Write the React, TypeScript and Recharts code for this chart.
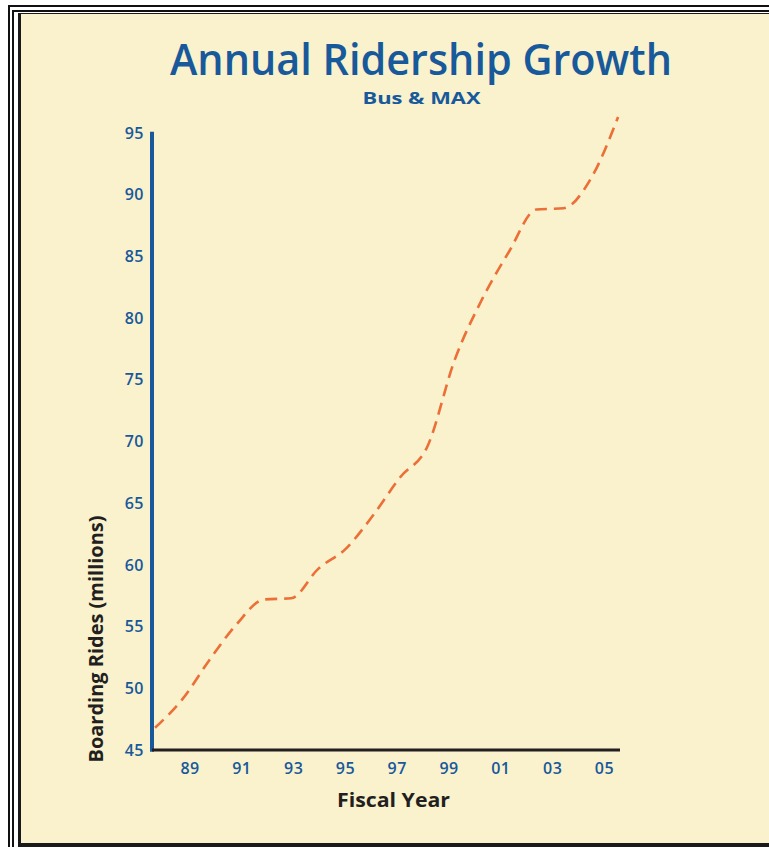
import { LineChart, Line, XAxis, YAxis, ReferenceLine } from "recharts";

// fiscal years 1988..2005 (stored as 88..105 so the numeric axis stays in order)
const years = [88, 89, 90, 91, 92, 93, 94, 95, 96, 97, 98, 99, 100, 101, 102, 103, 104, 105];
// boarding rides, millions
const rides = [46.8, 49.1, 52.3, 55.2, 57.2, 57.3, 59.7, 61.3, 64.0, 67.1, 69.6, 76.6, 81.5, 85.4, 88.8, 88.9, 91.3, 96.3];
const yTicks = [45, 50, 55, 60, 65, 70, 75, 80, 85, 90, 95];
const xTicks = [89, 91, 93, 95, 97, 99, 101, 103, 105];

const data = years.map((year, i) => ({ year, rides: rides[i] }));

const CREAM = "#FAF1CD";
const BLUE = "#17599A";
const INK = "#231F20";
const ORANGE = "#EB6F36";
const FONT = "'Open Sans', 'DejaVu Sans', sans-serif";

const fmtYear = (v: number) => String(v % 100).padStart(2, "0");

export default function App() {
  return (
    <div style={{ position: "absolute", left: 0, top: 0, width: 769, height: 847, background: "#fff", overflow: "hidden" }}>
      {/* triple frame */}
      <div style={{ position: "absolute", left: 8, top: 5, right: 0, bottom: 0, borderLeft: "2px solid #111", borderTop: "2px solid #111" }} />
      <div style={{ position: "absolute", left: 12, top: 10, right: 0, bottom: 0, borderLeft: "2px solid #111", borderTop: "2px solid #111" }} />
      <div
        style={{
          position: "absolute", left: 18, top: 13, right: 0, bottom: 0,
          borderLeft: "3px solid #1a1a1a", borderTop: "1px solid #1a1a1a", borderBottom: "4px solid #1a1a1a",
          background: CREAM,
        }}
      />

      <div style={{ position: "absolute", left: 0, top: 0 }}>
        <LineChart width={769} height={847} data={data} margin={{ top: 114.5, right: 149, bottom: 67, left: 92 }}>
          <XAxis
            xAxisId="yr"
            type="number"
            dataKey="year"
            domain={[87.89, 105.07]}
            allowDataOverflow
            hide
          />
          <XAxis
            xAxisId="lbl"
            type="number"
            dataKey="year"
            domain={[87.53, 105.6]}
            allowDataOverflow
            ticks={xTicks}
            tickFormatter={fmtYear}
            interval={0}
            height={30}
            tickLine={false}
            tickMargin={7}
            axisLine={{ stroke: INK, strokeWidth: 3 }}
            tick={{ fill: BLUE, fontSize: 16, fontWeight: 600, fontFamily: FONT, letterSpacing: 0.5 }}
          />
          {/* domain runs a little past 95 so the last year can rise above the axis top, as in the print */}
          <YAxis
            type="number"
            domain={[45, 96.5]}
            ticks={yTicks}
            interval={0}
            width={60}
            tickLine={false}
            axisLine={false}
            tick={{ fill: BLUE, fontSize: 16, fontWeight: 600, fontFamily: FONT, letterSpacing: 0.5 }}
          />
          {/* the blue value axis stops at 95 */}
          <ReferenceLine
            xAxisId="lbl"
            segment={[{ x: 87.53, y: 44.85 }, { x: 87.53, y: 95.1 }]}
            stroke={BLUE}
            strokeWidth={4}
            ifOverflow="visible"
          />
          <Line
            xAxisId="yr"
            type="monotone"
            dataKey="rides"
            stroke={ORANGE}
            strokeWidth={2.6}
            strokeDasharray="12 7"
            dot={false}
            activeDot={false}
            isAnimationActive={false}
          />
        </LineChart>
      </div>

      {/* titles */}
      <svg width={769} height={847} style={{ position: "absolute", left: 0, top: 0, pointerEvents: "none" }}>
        <text x={421} y={75} textAnchor="middle" textLength={502} lengthAdjust="spacingAndGlyphs"
          fontSize={44} fontWeight={600} fill={BLUE} fontFamily={FONT}>
          Annual Ridership Growth
        </text>
        <text x={421.5} y={104} textAnchor="middle" textLength={118} lengthAdjust="spacingAndGlyphs"
          fontSize={16} fontWeight={700} fill={BLUE} fontFamily={FONT}>
          Bus &amp; MAX
        </text>
        <text x={393.5} y={807} textAnchor="middle" textLength={113} lengthAdjust="spacingAndGlyphs"
          fontSize={20} fontWeight={700} fill={INK} fontFamily={FONT}>
          Fiscal Year
        </text>
        <text transform="translate(103,639) rotate(-90)" textAnchor="middle" textLength={247} lengthAdjust="spacingAndGlyphs"
          fontSize={20} fontWeight={700} fill={INK} fontFamily={FONT}>
          Boarding Rides (millions)
        </text>
      </svg>
    </div>
  );
}
